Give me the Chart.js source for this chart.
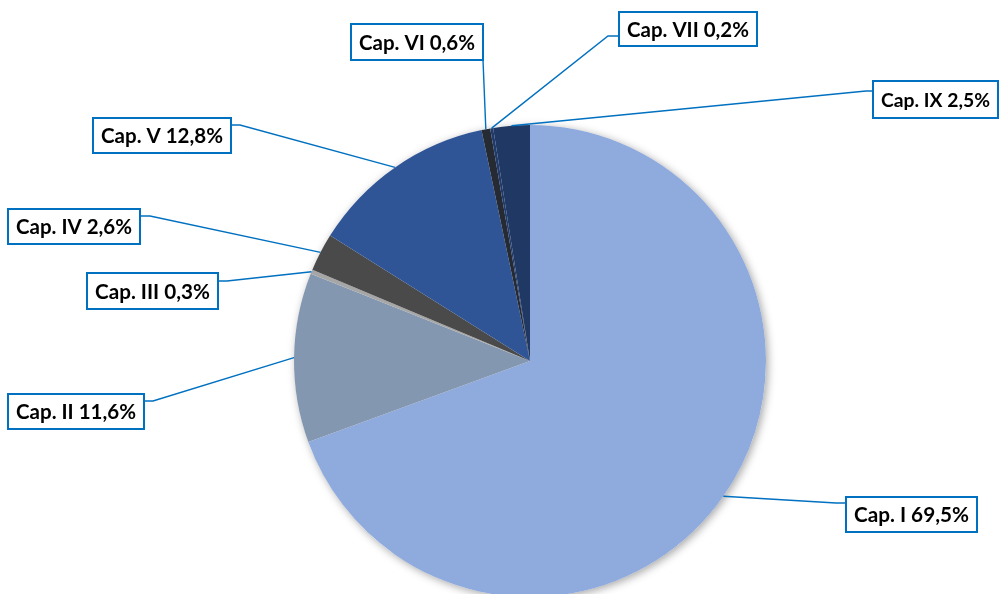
<!DOCTYPE html>
<html>
<head>
<meta charset="utf-8">
<script src="https://cdn.jsdelivr.net/npm/chart.js@4/dist/chart.umd.min.js"></script>
<style>
html,body{margin:0;padding:0;background:#fff;overflow:hidden;}
#wrap{width:999px;height:600px;}
</style>
</head>
<body>
<div id="wrap"><canvas id="c" width="999" height="600"></canvas></div>
<script>
// ---- data ----
const categories = ['Cap. I', 'Cap. II', 'Cap. III', 'Cap. IV', 'Cap. V', 'Cap. VI', 'Cap. VII', 'Cap. IX'];
const shares = [69.5, 11.6, 0.3, 2.6, 12.8, 0.6, 0.2, 2.5];
const shareLabels = ['69,5%', '11,6%', '0,3%', '2,6%', '12,8%', '0,6%', '0,2%', '2,5%'];

// ---- styles / layout ----
const colors = ['#8FAADC', '#8497B0', '#A6A6A6', '#4A4A4A', '#2F5597', '#262A33', '#1F3A6B', '#203864'];
// label boxes: l,t,r,b ; attach point on box (ax,ay) ; elbow (ex,ey)
const labelBoxes = [
  {l:846, t:497, r:977, b:532, ax:846, ay:503, ex:836, ey:503},
  {l:8,   t:394, r:144, b:429, ax:144, ay:401, ex:153, ey:401},
  {l:87,  t:273, r:218, b:309, ax:218, ay:281, ex:227, ey:281},
  {l:8,   t:209, r:140, b:244, ax:140, ay:216, ex:150, ey:216},
  {l:93,  t:118, r:231, b:153, ax:231, ay:125, ex:240, ey:125},
  {l:351, t:24,  r:483, b:60,  ax:483, ay:60,  ex:483, ey:60},
  {l:619, t:12,  r:757, b:46,  ax:619, ay:36,  ex:608, ey:36},
  {l:873, t:81,  r:998, b:118, ax:873, ay:91,  ex:866, ey:91}
];

const shadowPlugin = {
  id: 'pieShadow',
  beforeDatasetsDraw(chart) {
    const arc = chart.getDatasetMeta(0).data[0];
    if (!arc) return;
    const c = chart.ctx;
    c.save();
    c.shadowColor = 'rgba(0,0,0,0.35)';
    c.shadowBlur = 9;
    c.shadowOffsetX = 2;
    c.shadowOffsetY = 2;
    c.beginPath();
    c.arc(arc.x, arc.y, arc.outerRadius, 0, Math.PI * 2);
    c.fillStyle = '#ffffff';
    c.fill();
    c.restore();
  }
};

const labelPlugin = {
  id: 'calloutLabels',
  afterDatasetsDraw(chart) {
    const c = chart.ctx;
    const meta = chart.getDatasetMeta(0);
    c.save();
    meta.data.forEach((arc, i) => {
      const box = labelBoxes[i];
      const mid = (arc.startAngle + arc.endAngle) / 2;
      const px = arc.x + Math.cos(mid) * arc.outerRadius;
      const py = arc.y + Math.sin(mid) * arc.outerRadius;
      c.beginPath();
      c.moveTo(px, py);
      c.lineTo(box.ex, box.ey);
      c.lineTo(box.ax, box.ay);
      c.strokeStyle = '#0070C0';
      c.lineWidth = 1.4;
      c.stroke();
      c.fillStyle = '#ffffff';
      c.fillRect(box.l, box.t, box.r - box.l, box.b - box.t);
      c.strokeStyle = '#0070C0';
      c.lineWidth = 2;
      c.strokeRect(box.l, box.t, box.r - box.l, box.b - box.t);
      const text = categories[i] + ' ' + shareLabels[i];
      const target = (box.r - box.l) - 16;
      let size = 20;
      c.font = 'bold ' + size + 'px Lato';
      const w = c.measureText(text).width;
      size = Math.min(22, size * target / w);
      c.font = 'bold ' + size.toFixed(2) + 'px Lato';
      c.fillStyle = '#000000';
      c.textAlign = 'center';
      c.textBaseline = 'middle';
      c.fillText(text, (box.l + box.r) / 2, (box.t + box.b) / 2 + 1);
    });
    c.restore();
  }
};

new Chart(document.getElementById('c'), {
  type: 'pie',
  data: {
    labels: categories,
    datasets: [{
      data: shares,
      backgroundColor: colors,
      borderWidth: 0
    }]
  },
  options: {
    responsive: false,
    animation: false,
    devicePixelRatio: 1,
    layout: {padding: {left: 294, right: 233, top: 125, bottom: 3}},
    plugins: {legend: {display: false}, tooltip: {enabled: false}}
  },
  plugins: [shadowPlugin, labelPlugin]
});
</script>
</body>
</html>
